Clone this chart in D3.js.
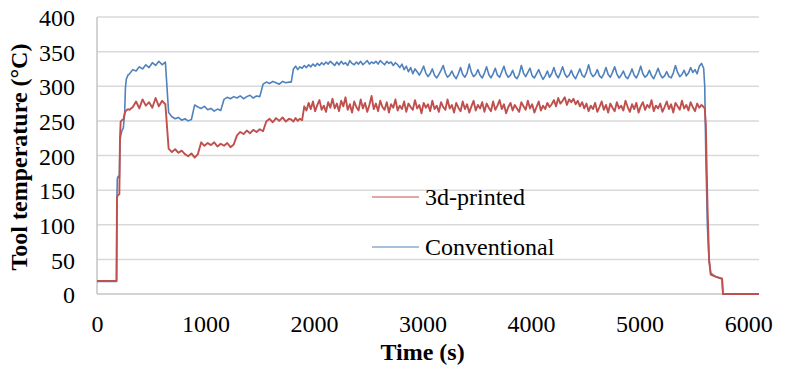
<!DOCTYPE html>
<html>
<head>
<meta charset="utf-8">
<script src="https://cdn.jsdelivr.net/npm/d3@7"></script>
<style>
  body { margin: 0; background: #fff; }
  text { font-family: "Liberation Serif", "Times New Roman", serif; fill: #000; }
</style>
</head>
<body>
<div id="tool_chart"></div>
<script>
// sample times (s), shared by both series
const time = [
  0, 180, 184, 187, 195, 206, 212, 218, 230, 243, 255, 262, 270, 285,
  300, 330, 360, 390, 420, 450, 480, 510, 540, 570, 600, 630,
  660, 690, 720, 750, 780, 810, 840, 870,
  900, 930, 960, 990, 1020, 1050, 1080, 1110, 1140,
  1170, 1200, 1230, 1260, 1290, 1320, 1350, 1380, 1410, 1440, 1470, 1500,
  1530, 1560, 1590, 1620, 1650, 1680, 1710, 1740, 1770,
  1790, 1810, 1830, 1850, 1870, 1890, 1910, 1930, 1950, 1970,
  1990, 2010, 2030, 2050, 2070, 2090, 2110, 2130, 2150, 2170,
  2190, 2210, 2230, 2250, 2270, 2290, 2310, 2330, 2350, 2370,
  2390, 2410, 2430, 2450, 2470, 2490, 2510, 2530, 2550, 2570,
  2590, 2610, 2630, 2650, 2670, 2690, 2710, 2730, 2750, 2770,
  2790, 2810, 2830, 2850, 2870, 2890, 2910, 2930, 2950, 2970,
  2990, 3010, 3030, 3050, 3070, 3090, 3110, 3130, 3150, 3170,
  3190, 3210, 3230, 3250, 3270, 3290, 3310, 3330, 3350, 3370,
  3390, 3410, 3430, 3450, 3470, 3490, 3510, 3530, 3550, 3570,
  3590, 3610, 3630, 3650, 3670, 3690, 3710, 3730, 3750, 3770,
  3790, 3810, 3830, 3850, 3870, 3890, 3910, 3930, 3950, 3970,
  3990, 4010, 4030, 4050, 4070, 4090, 4110, 4130, 4150, 4170,
  4190, 4210, 4230, 4250, 4270, 4290, 4310, 4330, 4350, 4370,
  4390, 4410, 4430, 4450, 4470, 4490, 4510, 4530, 4550, 4570,
  4590, 4610, 4630, 4650, 4670, 4690, 4710, 4730, 4750, 4770,
  4790, 4810, 4830, 4850, 4870, 4890, 4910, 4930, 4950, 4970,
  4990, 5010, 5030, 5050, 5070, 5090, 5110, 5130, 5150, 5170,
  5190, 5210, 5230, 5250, 5270, 5290, 5310, 5330, 5350, 5370,
  5390, 5410, 5430, 5450, 5470, 5490, 5510, 5530, 5550, 5570,
  5590, 5600, 5610, 5625, 5640, 5655, 5700, 5760, 5768, 6100
];

// 3d-printed tool temperature (°C)
const printed = [
  19, 19, 138, 141, 143, 144, 226, 249, 251, 252, 260, 264, 265, 267,
  266, 270, 278, 268, 281, 272, 277, 269, 283, 271, 279, 274,
  210, 205, 209, 204, 207, 202, 199, 203,
  197, 202, 219, 214, 218, 215, 219, 213, 217,
  214, 218, 212, 216, 229, 234, 231, 236, 232, 237, 234, 238,
  235, 249, 253, 248, 254, 250, 255, 249, 253,
  252, 249, 254, 250, 253, 251, 271, 265, 276, 267,
  278, 264, 273, 280, 266, 272, 263, 277, 269, 282,
  268, 275, 264, 279, 271, 284, 266, 274, 262, 278,
  270, 265, 281, 268, 276, 263, 273, 286, 267, 275,
  264, 279, 270, 266, 277, 262, 274, 269, 281, 265,
  272, 267, 278, 263, 275, 270, 266, 280, 268, 273,
  261, 276, 269, 274, 264, 279, 267, 272, 263, 277,
  270, 266, 281, 268, 273, 262, 276, 269, 264, 278,
  267, 274, 262, 271, 279, 265, 273, 268, 277, 263,
  275, 269, 264, 278, 266, 272, 280, 267, 274, 261,
  270, 276, 265, 273, 268, 263, 277, 271, 266, 279,
  268, 274, 262, 270, 278, 265, 272, 267, 276, 270,
  274, 280, 271, 283, 275, 279, 284, 273, 281, 277,
  282, 274, 279, 271, 277, 268, 275, 264, 272, 267,
  276, 263, 270, 278, 266, 273, 262, 275, 269, 264,
  277, 268, 272, 265, 279, 270, 263, 274, 267, 276,
  262, 271, 277, 266, 273, 269, 280, 264, 272, 268,
  275, 263, 270, 278, 267, 274, 262, 276, 271, 266,
  279, 268, 273, 265, 277, 270, 264, 275, 269, 273,
  270, 268, 245, 130, 50, 28, 25, 22, 0, 0
];

// conventional tool temperature (°C)
const conventional = [
  18, 18, 140, 166, 170, 168, 222, 228, 236, 240, 262, 298, 310, 316,
  318, 324, 322, 328, 325, 331, 327, 334, 330, 336, 331, 335,
  262, 256, 253, 255, 251, 253, 250, 252,
  273, 270, 268, 271, 266, 268, 264, 267, 265,
  281, 284, 282, 285, 283, 286, 282, 285, 287, 283, 286, 285,
  303, 306, 304, 307, 305, 303, 307, 305, 306,
  306, 325, 329, 324, 328, 326, 330, 327, 331, 328,
  332, 329, 333, 330, 334, 331, 335, 332, 336, 333,
  330, 335, 331, 336, 332, 334, 330, 337, 333, 331,
  335, 332, 336, 331, 334, 337, 332, 335, 333, 336,
  332, 337, 334, 331, 336, 333, 335, 330, 334, 331,
  327, 332, 324, 329, 321, 327, 318, 325, 321, 316,
  322, 329, 319, 314, 318, 325, 316, 312, 317, 323,
  330, 319, 313, 316, 322, 315, 311, 318, 327, 317,
  313, 319, 332, 320, 314, 317, 324, 316, 312, 319,
  328, 317, 312, 318, 326, 316, 313, 321, 329, 318,
  313, 316, 323, 314, 311, 317, 330, 319, 314, 320,
  326, 315, 312, 318, 324, 316, 310, 315, 322, 313,
  318, 327, 317, 312, 319, 328, 318, 313, 316, 323,
  315, 311, 318, 325, 316, 313, 320, 331, 319, 314,
  317, 324, 315, 312, 318, 327, 317, 313, 320, 328,
  318, 312, 316, 322, 314, 311, 317, 325, 316, 312,
  319, 329, 318, 313, 316, 323, 315, 311, 318, 326,
  317, 312, 315, 321, 314, 312, 319, 330, 320, 314,
  317, 323, 315, 319, 327, 320, 324, 318, 329, 333,
  326, 300, 200, 95, 48, 30, 25, 22, 0, 0
];

const xTicks = [0, 1000, 2000, 3000, 4000, 5000, 6000];
const yTicks = [0, 50, 100, 150, 200, 250, 300, 350, 400];
const seriesNames = ['3d-printed', 'Conventional'];
const seriesColors = ['#C0504D', '#4F81BD'];

const margin = { top: 17, right: 28, bottom: 75, left: 97 },
  width = 787 - margin.left - margin.right,
  height = 369 - margin.top - margin.bottom;

const xScale = d3.scaleLinear().domain([0, 6100]).range([0, width]);
const yScale = d3.scaleLinear().domain([0, 400]).range([height, 0]);

const svg = d3.select('#tool_chart')
  .append('svg')
  .attr('width', 787)
  .attr('height', 369)
  .append('g')
  .attr('transform', 'translate(' + margin.left + ',' + margin.top + ')');

// horizontal gridlines
svg.append('g')
  .selectAll('line')
  .data(yTicks.filter(d => d > 0))
  .enter().append('line')
  .attr('x1', 0)
  .attr('x2', width)
  .attr('y1', d => yScale(d))
  .attr('y2', d => yScale(d))
  .attr('stroke', '#d9d9d9')
  .attr('stroke-width', 1.5);

// axis lines
svg.append('line')
  .attr('x1', 0).attr('x2', 0)
  .attr('y1', 0).attr('y2', height)
  .attr('stroke', '#c4c4c4').attr('stroke-width', 1.5);
svg.append('line')
  .attr('x1', 0).attr('x2', width)
  .attr('y1', height).attr('y2', height)
  .attr('stroke', '#c4c4c4').attr('stroke-width', 1.5);

// tick labels
const yAxis = d3.axisLeft(yScale).tickValues(yTicks).tickSize(0).tickPadding(22);
const yG = svg.append('g').call(yAxis)
  .attr('font-family', '"Liberation Serif", serif')
  .attr('font-size', 24);
yG.select('.domain').remove();
yG.selectAll('text').attr('dy', '0.36em');

const xAxis = d3.axisBottom(xScale)
  .tickValues(xTicks)
  .tickFormat(d3.format('d'))
  .tickSize(0)
  .tickPadding(38);
const xG = svg.append('g').attr('transform', 'translate(0,' + height + ')').call(xAxis)
  .attr('font-family', '"Liberation Serif", serif')
  .attr('font-size', 24);
xG.select('.domain').remove();
xG.selectAll('text').attr('dy', '0');

const lineGenerator = d3.line()
  .x((d, i) => xScale(time[i]))
  .y(d => yScale(d));

// conventional first, 3d-printed on top
svg.append('path')
  .datum(conventional)
  .attr('d', lineGenerator)
  .attr('fill', 'none')
  .attr('stroke', seriesColors[1])
  .attr('stroke-width', 1.6)
  .attr('stroke-linejoin', 'round');

svg.append('path')
  .datum(printed)
  .attr('d', lineGenerator)
  .attr('fill', 'none')
  .attr('stroke', seriesColors[0])
  .attr('stroke-width', 1.9)
  .attr('stroke-linejoin', 'round');

// legend
const legend = svg.append('g').attr('transform', 'translate(275,180)');
seriesNames.forEach((name, i) => {
  legend.append('line')
    .attr('x1', 0).attr('x2', 47)
    .attr('y1', i * 50).attr('y2', i * 50)
    .attr('stroke', seriesColors[i])
    .attr('stroke-width', 1);
  legend.append('text')
    .attr('x', 53)
    .attr('y', i * 50 + 8)
    .style('font-size', '24px')
    .text(name);
});

// axis titles
svg.append('text')
  .attr('x', xScale(3000))
  .attr('y', 343)
  .attr('text-anchor', 'middle')
  .style('font-size', '24px')
  .style('font-weight', 'bold')
  .text('Time (s)');

svg.append('text')
  .attr('transform', 'translate(' + (27 - margin.left) + ',' + (157 - margin.top) + ') rotate(-90)')
  .attr('text-anchor', 'middle')
  .style('font-size', '24px')
  .style('font-weight', 'bold')
  .text('Tool temperature (°C)');
</script>
</body>
</html>
